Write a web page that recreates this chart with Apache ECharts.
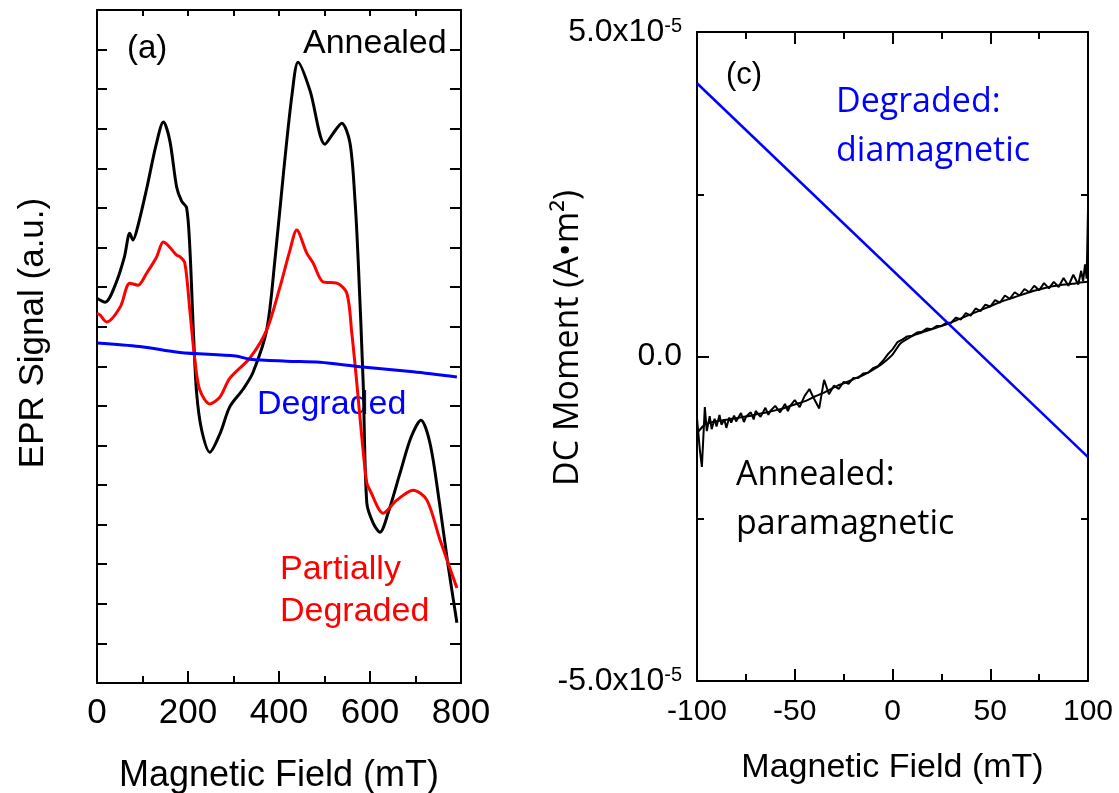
<!DOCTYPE html>
<html>
<head>
<meta charset="utf-8">
<script src="https://cdn.jsdelivr.net/npm/echarts@6/dist/echarts.min.js"></script>
<style>
html,body{margin:0;padding:0;background:#fff;}
#chart{width:1119px;height:793px;}
</style>
</head>
<body>
<div id="chart"></div>
<script>
// ---------- Panel (a): EPR spectra (signal in arbitrary units, 0..17 grid units) ----------
const eprFieldTicks = [0, 200, 400, 600, 800];

const annealedField  = [0, 18, 40, 60, 72, 79, 90, 110, 130, 146, 160, 175, 186, 197, 204, 212, 219, 230, 248, 270, 292, 321, 343, 373, 391, 410, 429, 442, 468, 501, 520, 538, 556, 567, 574, 585, 593, 607, 622, 640, 666, 690, 712, 732, 752, 770, 791];
const annealedSignal = [9.72, 9.62, 10.05, 10.75, 11.36, 11.19, 11.55, 12.53, 13.6, 14.17, 13.7, 12.53, 12.17, 12.0, 11.0, 8.84, 7.32, 6.39, 5.83, 6.29, 6.98, 7.42, 7.85, 8.92, 10.68, 12.9, 14.9, 15.68, 14.97, 13.61, 13.9, 14.14, 13.64, 12.2, 10.68, 7.58, 4.55, 4.04, 3.81, 4.3, 5.3, 6.2, 6.64, 6.05, 4.6, 3.1, 1.52];

const partialField  = [0, 7, 21, 51, 72, 90, 109, 131, 146, 175, 182, 193, 204, 215, 226, 248, 270, 292, 336, 373, 402, 424, 439, 461, 475, 497, 527, 549, 560, 571, 582, 593, 600, 629, 659, 695, 725, 754, 791];
const partialSignal = [9.34, 9.29, 9.12, 9.50, 10.10, 10.05, 10.35, 10.76, 11.14, 10.81, 10.77, 10.61, 9.42, 8.16, 7.40, 7.05, 7.22, 7.70, 8.21, 8.92, 10.0, 10.93, 11.44, 10.86, 10.61, 10.13, 10.10, 9.85, 8.84, 7.58, 6.21, 5.05, 4.87, 4.29, 4.62, 4.87, 4.62, 3.61, 2.40];

const degradedField  = [0, 94, 182, 305, 336, 417, 490, 578, 695, 791];
const degradedSignal = [8.59, 8.50, 8.35, 8.26, 8.18, 8.13, 8.10, 7.99, 7.86, 7.73];

// ---------- Panel (c): DC moment (values in units of 1e-5 A·m²) ----------
const MOMENT_UNIT = 1e-5;
const dcFieldTicks = [-100, -50, 0, 50, 100];

const diaField  = [-100, 100];
const diaMoment = [4.21, -1.55];

const paraFieldA  = [-100, -96, -92, -88, -84, -80, -76, -72, -68, -64, -60, -56, -52, -48, -44, -40, -36, -32, -28, -24, -20, -16, -12, -8, -4, 0, 4, 8, 12, 16, 20, 24, 28, 32, 36, 40, 44, 48, 52, 56, 60, 64, 68, 72, 76, 80, 84, 88, 92, 96, 100];
const paraMomentA = [-1.18, -1.05, -1.01, -0.99, -0.97, -0.95, -0.93, -0.91, -0.88, -0.86, -0.83, -0.80, -0.76, -0.72, -0.68, -0.62, -0.57, -0.51, -0.45, -0.40, -0.35, -0.30, -0.24, -0.17, -0.08, 0.03, 0.20, 0.28, 0.34, 0.38, 0.42, 0.46, 0.50, 0.55, 0.60, 0.65, 0.70, 0.75, 0.80, 0.85, 0.89, 0.93, 0.97, 1.01, 1.04, 1.07, 1.09, 1.11, 1.12, 1.14, 1.15];

const paraFieldB  = [-100, -98.5, -97.5, -96, -95, -93.5, -92.5, -91, -90, -88.5, -87.5, -86, -85, -83.5, -82.5, -81, -80, -77.5, -76, -75, -72.5, -71, -70, -67.5, -65, -63.5, -62.5, -60, -57.5, -55, -53.5, -52.5, -50, -47.5, -45, -42.5, -40, -37.5, -35, -32.5, -30, -27.5, -25, -22.5, -20, -17.5, -15, -12.5, -10, -7.5, -5, -2.5, 0, 2.5, 5, 7.5, 10, 12.5, 15, 17.5, 20, 22.5, 25, 27.5, 30, 32.5, 35, 37.5, 40, 42.5, 45, 47.5, 50, 52.5, 55, 57.5, 60, 62.5, 65, 67.5, 70, 72.5, 75, 77.5, 80, 82.5, 85, 87.5, 90, 92.5, 95, 96.5, 97.5, 98.5, 99.3, 100];
const paraMomentB = [-0.95, -1.45, -1.70, -0.78, -1.15, -0.92, -1.12, -0.96, -1.08, -0.90, -1.05, -0.97, -1.10, -0.94, -1.02, -0.91, -1.00, -0.87, -1.01, -0.93, -0.86, -0.97, -0.84, -0.93, -0.79, -0.90, -0.84, -0.76, -0.86, -0.73, -0.84, -0.77, -0.67, -0.78, -0.61, -0.50, -0.66, -0.80, -0.36, -0.58, -0.45, -0.50, -0.39, -0.42, -0.33, -0.33, -0.26, -0.25, -0.18, -0.15, -0.07, 0.03, 0.11, 0.22, 0.26, 0.31, 0.32, 0.37, 0.38, 0.43, 0.42, 0.47, 0.47, 0.52, 0.52, 0.60, 0.57, 0.67, 0.63, 0.74, 0.70, 0.80, 0.77, 0.87, 0.83, 0.94, 0.89, 0.99, 0.94, 1.04, 0.99, 1.09, 1.02, 1.13, 1.05, 1.15, 1.07, 1.21, 1.09, 1.26, 1.11, 1.32, 1.16, 1.42, 1.20, 2.26];

// ---------- build ----------
const zip = (xs, ys, k) => xs.map((x, i) => [x, ys[i] * (k || 1)]);
const ARIAL = '"Liberation Sans", Arial, sans-serif';
const CAL = '"Open Sans", "Noto Sans", sans-serif';
const mkLine = () => ({ show: true, onZero: false, lineStyle: { color: '#000', width: 2 } });
const mkTick = (len) => ({ show: true, inside: true, length: len, lineStyle: { color: '#000', width: 2 } });
const mkMinor = (len) => ({ show: true, splitNumber: 2, length: len, lineStyle: { color: '#000', width: 2 } });

function momentLabel(v) {
  if (Math.abs(v) < 1e-12) return '{m|0.0}';
  const e = Math.floor(Math.log10(Math.abs(v)) + 1e-9);
  const mant = (v / Math.pow(10, e)).toFixed(1);
  return '{m|' + mant + 'x10}{s|' + e + '}';
}

const chart = echarts.init(document.getElementById('chart'));
chart.setOption({
  animation: false,
  grid: [
    { left: 97, top: 10, width: 364, height: 673, outerBoundsMode: 'none' },
    { left: 697, top: 32, width: 391, height: 649, outerBoundsMode: 'none' }
  ],
  xAxis: [
    { gridIndex: 0, type: 'value', min: eprFieldTicks[0], max: eprFieldTicks[eprFieldTicks.length - 1], interval: 200,
      axisLine: mkLine(), axisTick: mkTick(12), minorTick: mkMinor(7),
      splitLine: { show: false },
      axisLabel: { color: '#000', fontFamily: ARIAL, fontSize: 35, margin: 13 },
      name: 'Magnetic Field (mT)', nameLocation: 'middle', nameGap: 75,
      nameTextStyle: { color: '#000', fontFamily: ARIAL, fontSize: 36 } },
    { gridIndex: 0, type: 'value', position: 'top', min: 0, max: 800, interval: 200,
      axisLine: mkLine(), axisTick: mkTick(6), minorTick: mkMinor(6),
      splitLine: { show: false }, axisLabel: { show: false } },
    { gridIndex: 1, type: 'value', min: dcFieldTicks[0], max: dcFieldTicks[dcFieldTicks.length - 1], interval: 50,
      axisLine: mkLine(), axisTick: mkTick(12), minorTick: mkMinor(7),
      splitLine: { show: false },
      axisLabel: { color: '#000', fontFamily: ARIAL, fontSize: 30, margin: 16 },
      name: 'Magnetic Field (mT)', nameLocation: 'middle', nameGap: 70,
      nameTextStyle: { color: '#000', fontFamily: ARIAL, fontSize: 34 } },
    { gridIndex: 1, type: 'value', position: 'top', min: -100, max: 100, interval: 50,
      axisLine: mkLine(), axisTick: mkTick(12), minorTick: mkMinor(7),
      splitLine: { show: false }, axisLabel: { show: false } }
  ],
  yAxis: [
    { gridIndex: 0, type: 'value', min: 0, max: 17, interval: 1,
      axisLine: mkLine(), axisTick: mkTick(10),
      splitLine: { show: false }, axisLabel: { show: false } },
    { gridIndex: 0, type: 'value', position: 'right', min: 0, max: 17, interval: 1,
      axisLine: mkLine(), axisTick: mkTick(11),
      splitLine: { show: false }, axisLabel: { show: false } },
    { gridIndex: 1, type: 'value', min: -5e-5, max: 5e-5, interval: 5e-5,
      axisLine: mkLine(), axisTick: mkTick(12), minorTick: mkMinor(7),
      splitLine: { show: false },
      axisLabel: { margin: 15, formatter: momentLabel,
        rich: {
          m: { color: '#000', fontFamily: ARIAL, fontSize: 32, lineHeight: 32 },
          s: { color: '#000', fontFamily: ARIAL, fontSize: 20, verticalAlign: 'top', lineHeight: 32 }
        } } },
    { gridIndex: 1, type: 'value', position: 'right', min: -5e-5, max: 5e-5, interval: 5e-5,
      axisLine: mkLine(), axisTick: mkTick(12), minorTick: mkMinor(7),
      splitLine: { show: false }, axisLabel: { show: false } }
  ],
  series: [
    { name: 'Annealed', type: 'line', xAxisIndex: 0, yAxisIndex: 0, data: zip(annealedField, annealedSignal),
      showSymbol: false, symbol: 'none', smooth: 0.3, lineStyle: { color: '#000', width: 3 } },
    { name: 'Partially Degraded', type: 'line', xAxisIndex: 0, yAxisIndex: 0, data: zip(partialField, partialSignal),
      showSymbol: false, symbol: 'none', smooth: 0.3, lineStyle: { color: '#ff0000', width: 3 } },
    { name: 'Degraded', type: 'line', xAxisIndex: 0, yAxisIndex: 0, data: zip(degradedField, degradedSignal),
      showSymbol: false, symbol: 'none', smooth: 0.3, lineStyle: { color: '#0000ff', width: 3 } },
    { name: 'Annealed sweep 1', type: 'line', xAxisIndex: 2, yAxisIndex: 2, data: zip(paraFieldA, paraMomentA, MOMENT_UNIT),
      showSymbol: false, symbol: 'none', smooth: 0.2, lineStyle: { color: '#000', width: 2 } },
    { name: 'Annealed sweep 2', type: 'line', xAxisIndex: 2, yAxisIndex: 2, data: zip(paraFieldB, paraMomentB, MOMENT_UNIT),
      showSymbol: false, symbol: 'none', lineStyle: { color: '#000', width: 2 } },
    { name: 'Degraded DC', type: 'line', xAxisIndex: 2, yAxisIndex: 2, data: zip(diaField, diaMoment, MOMENT_UNIT),
      showSymbol: false, symbol: 'none', lineStyle: { color: '#0000ff', width: 2.5 } }
  ],
  graphic: [
    { type: 'text', x: 33, y: 333, rotation: Math.PI / 2,
      style: { text: 'EPR Signal (a.u.)', font: '35px ' + ARIAL, fill: '#000', align: 'center', verticalAlign: 'middle' } },
    { type: 'text', x: 568, y: 338, rotation: Math.PI / 2,
      style: { text: 'DC Moment (A•m²)', font: '34px ' + CAL, fill: '#000', align: 'center', verticalAlign: 'middle' } },
    { type: 'text', x: 127, y: 49, style: { text: '(a)', font: '33px ' + ARIAL, fill: '#000', align: 'left', verticalAlign: 'middle' } },
    { type: 'text', x: 303, y: 44, style: { text: 'Annealed', font: '34px ' + ARIAL, fill: '#000', align: 'left', verticalAlign: 'middle' } },
    { type: 'text', x: 257, y: 405, style: { text: 'Degraded', font: '34px ' + ARIAL, fill: '#0000ff', align: 'left', verticalAlign: 'middle' } },
    { type: 'text', x: 280, y: 570, style: { text: 'Partially', font: '34px ' + ARIAL, fill: '#ff0000', align: 'left', verticalAlign: 'middle' } },
    { type: 'text', x: 280, y: 612, style: { text: 'Degraded', font: '34px ' + ARIAL, fill: '#ff0000', align: 'left', verticalAlign: 'middle' } },
    { type: 'text', x: 726, y: 75, style: { text: '(c)', font: '31px ' + ARIAL, fill: '#000', align: 'left', verticalAlign: 'middle' } },
    { type: 'text', x: 836, y: 102, style: { text: 'Degraded:', font: '34px ' + CAL, fill: '#0000ff', align: 'left', verticalAlign: 'middle' } },
    { type: 'text', x: 836, y: 151, style: { text: 'diamagnetic', font: '34px ' + CAL, fill: '#0000ff', align: 'left', verticalAlign: 'middle' } },
    { type: 'text', x: 736, y: 475, style: { text: 'Annealed:', font: '34px ' + CAL, fill: '#000', align: 'left', verticalAlign: 'middle' } },
    { type: 'text', x: 736, y: 524, style: { text: 'paramagnetic', font: '34px ' + CAL, fill: '#000', align: 'left', verticalAlign: 'middle' } }
  ]
});
</script>
</body>
</html>
